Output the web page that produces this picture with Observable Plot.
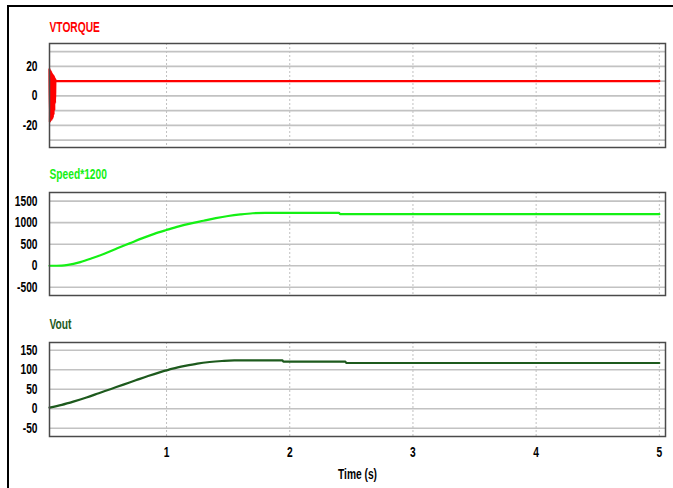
<!DOCTYPE html>
<html>
<head>
<meta charset="utf-8">
<script src="https://cdn.jsdelivr.net/npm/d3@7"></script>
<script src="https://cdn.jsdelivr.net/npm/@observablehq/plot@0.6"></script>
<style>
  html, body { margin: 0; padding: 0; background: #fff; }
  #wrap { position: relative; width: 673px; height: 488px; overflow: hidden; background: #fff; }
  #border { position: absolute; left: 7px; top: 5px; width: 700px; height: 520px;
            border-left: 2px solid #000; border-top: 2px solid #000; }
  .panel { position: absolute; left: 0; }
</style>
</head>
<body>
<div id="wrap"><div id="border"></div></div>
<script>
// ---- data ----
const timeTicks = [1, 2, 3, 4, 5];
const timeDomain = [0.05, 5.05];

const torqueTime  = [0.050, 0.053, 0.056, 0.059, 0.062, 0.065, 0.068, 0.071, 0.074, 0.077, 0.080, 0.083, 0.086, 0.089, 0.092, 0.095, 0.098, 0.100, 5.0];
const torqueValue = [18, -18, 17.5, -17, 17, -16.5, 16, -16, 15, -15, 14, -13, 13.5, -10, 12.5, -5, 11, 10, 10];
const torqueTicks = [-20, 0, 20];
const torqueGrid  = [-30, -20, -10, 0, 10, 20, 30];
const torqueDomain = [-35, 35.5];

const speedTime  = [0.05, 0.15, 0.2, 0.3, 0.4, 0.5, 0.6, 0.7, 0.8, 0.9, 1.0, 1.1, 1.2, 1.3, 1.4, 1.5, 1.6, 1.7, 1.8, 2.40, 2.41, 5.0];
const speedValue = [0, 5, 20, 85, 180, 285, 405, 520, 635, 740, 830, 915, 985, 1045, 1105, 1155, 1192, 1218, 1225, 1225, 1197, 1197];
const speedTicks = [-500, 0, 500, 1000, 1500];
const speedDomain = [-690, 1700];

const voutTime  = [0.05, 0.15, 0.25, 0.35, 0.45, 0.55, 0.65, 0.75, 0.85, 0.95, 1.05, 1.15, 1.25, 1.35, 1.45, 1.55, 1.65, 1.94, 1.95, 2.45, 2.46, 5.0];
const voutValue = [3, 10, 19, 29, 40, 51, 62, 73, 84, 94, 103, 110, 116, 120, 122.5, 124, 124, 124, 121, 121, 117.5, 117.5];
const voutTicks = [-50, 0, 50, 100, 150];
const voutDomain = [-71, 170];

const titles = ["VTORQUE", "Speed*1200", "Vout"];
const colors = ["#ff0000", "#14f014", "#1d5a1d"];
const xLabel = "Time (s)";

// ---- drawing ----
const font = "'Liberation Sans', Arial, sans-serif";
const squeeze = 0.73;

function condense(svg) {
  svg.querySelectorAll("text").forEach(t => {
    const w = t.getComputedTextLength();
    if (w > 0) {
      t.setAttribute("textLength", (w * squeeze).toFixed(2));
      t.setAttribute("lengthAdjust", "spacingAndGlyphs");
    }
  });
}

function panel({title, color, times, values, yDomain, yTicks, grid, top, marginTop, plotH, marginBottom, showX, titleDy}) {
  const idx = d3.range(times.length);
  const marks = [
    Plot.ruleY(grid, {stroke: "#c2c2c2", strokeWidth: 1.6}),
    Plot.ruleX(timeTicks, {stroke: "#c0c0c0", strokeWidth: 1, strokeDasharray: "2,2"}),
    Plot.line(idx, {x: i => times[i], y: i => values[i], stroke: color, strokeWidth: 2.2, curve: "monotone-x"}),
    Plot.frame({stroke: "#4a4a4a", strokeWidth: 1.5}),
    Plot.text([title], {frameAnchor: "top-left", dy: titleDy, textAnchor: "start", lineAnchor: "bottom",
                        fill: color, fontSize: 14, fontWeight: "bold"})
  ];
  if (showX) {
    marks.push(Plot.text([xLabel], {frameAnchor: "bottom", dy: 38, lineAnchor: "middle", fill: "#000", fontSize: 14, fontWeight: "bold"}));
  }
  const p = Plot.plot({
    width: 673,
    height: marginTop + plotH + marginBottom,
    marginLeft: 49, marginRight: 8, marginTop, marginBottom,
    style: {fontFamily: font, fontSize: "14px", fontWeight: "bold", color: "#000", background: "transparent", overflow: "visible"},
    x: {domain: timeDomain, ticks: timeTicks, tickSize: 0, tickPadding: 11, tickFormat: d => String(d), label: null, axis: showX ? "bottom" : null},
    y: {domain: yDomain, ticks: yTicks, tickSize: 0, tickPadding: 12, tickFormat: d => String(d), label: null},
    marks
  });
  p.classList.add("panel");
  p.style.top = top + "px";
  p.style.position = "absolute";
  document.getElementById("wrap").appendChild(p);
  condense(p);
}

panel({title: titles[0], color: colors[0], times: torqueTime, values: torqueValue, yDomain: torqueDomain, yTicks: torqueTicks,
       grid: torqueGrid, top: 10, marginTop: 33, plotH: 104, marginBottom: 4, showX: false, titleDy: -12});
panel({title: titles[1], color: colors[1], times: speedTime, values: speedValue, yDomain: speedDomain, yTicks: speedTicks,
       grid: speedTicks, top: 160, marginTop: 32, plotH: 103, marginBottom: 4, showX: false, titleDy: -13.5});
panel({title: titles[2], color: colors[2], times: voutTime, values: voutValue, yDomain: voutDomain, yTicks: voutTicks,
       grid: voutTicks, top: 310, marginTop: 32, plotH: 94, marginBottom: 52, showX: true, titleDy: -14});
</script>
</body>
</html>
